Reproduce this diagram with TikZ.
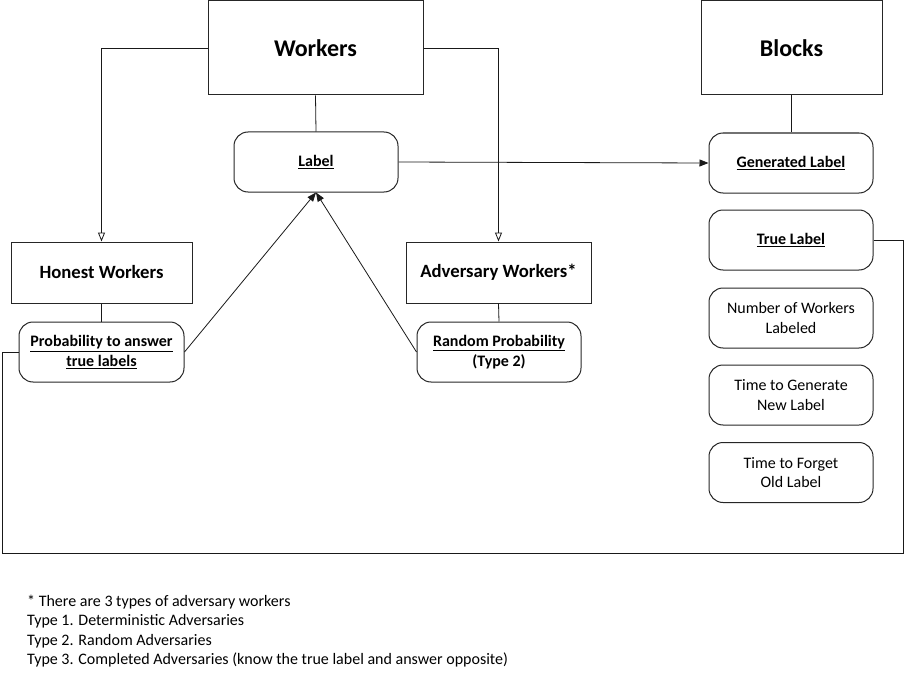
\documentclass[tikz,border=0pt]{standalone}
\usepackage{fontspec}
\setmainfont{Carlito}
\usetikzlibrary{arrows.meta}
\begin{document}
\begin{tikzpicture}[x=1pt,y=-1pt,
  box/.style={draw=black!85, line width=1pt, inner sep=0pt, align=center},
  bigbox/.style={box, minimum width=181pt, minimum height=94pt, font=\bfseries\fontsize{24}{28}\selectfont},
  midbox/.style={box, minimum height=61pt, font=\bfseries\fontsize{18.7}{22}\selectfont},
  rbox/.style={box, rounded corners=14pt, minimum width=164pt, minimum height=60pt, font=\fontsize{16}{19.5}\selectfont},
  rboxb/.style={rbox, font=\bfseries\fontsize{16}{19.5}\selectfont},
  conn/.style={draw=black!90, line width=0.8pt},
  openarr/.style={conn, -{Triangle[open,length=9pt,width=7pt]}},
  fillarr/.style={conn, -{Triangle[length=9pt,width=7pt]}},
  note/.style={anchor=base west, inner sep=0pt, font=\fontsize{16}{19}\selectfont}]
\useasboundingbox (0,0) rectangle (906,677);
% top boxes
\node[bigbox, minimum width=215pt] (workers) at (315.5,48) {Workers};
\node[bigbox] (blocks) at (791.5,48) {Blocks};
% middle boxes
\node[midbox, minimum width=181pt] (honest) at (101.5,272.5) {Honest Workers};
\node[midbox, minimum width=185pt] (adv) at (498.5,272.5) {Adversary Workers*};
% rounded boxes
\node[rboxb] (label) at (316,162) {\underline{Label}};
\node[rboxb, minimum width=165pt] (prob) at (101.5,352) {\underline{Probability to answer}\\\underline{true labels}};
\node[rboxb] (random) at (499,352) {\underline{Random Probability}\\(Type 2)};
\node[rboxb] (gen) at (791,163) {\underline{Generated Label}};
\node[rboxb] (true) at (791,240) {\underline{True Label}};
\node[rbox] (num) at (791,318) {Number of Workers\\Labeled};
\node[rbox] (tgen) at (791,395) {Time to Generate\\New Label};
\node[rbox] (tfor) at (791,472.5) {Time to Forget\\Old Label};
% connectors
\draw[openarr] (workers.west) -| (honest.north);
\draw[openarr] (workers.east) -| (adv.north);
\draw[conn] (workers.south) -- (label.north);
\draw[conn] (blocks.south) -- (gen.north -| blocks.south);
\draw[conn] (honest.south) -- (prob.north);
\draw[conn] (adv.south) -- (random.north);
\draw[fillarr] (label.east) -- (gen.west);
\draw[fillarr] (prob.east) -- (label.south);
\draw[fillarr] (random.west) -- (label.south);
\coordinate (loopR) at (903,553);
\coordinate (loopL) at (2,553);
\draw[conn] (true.east) -| (loopR) -- (loopL) |- (prob.west);
% footnote
\node[note] (n1) at (27,606) {* There are 3 types of adversary workers};
\node[note] (n2) at (27,625.5) {Type 1. Deterministic Adversaries};
\node[note] (n3) at (27,645) {Type 2. Random Adversaries};
\node[note] (n4) at (27,664.5) {Type 3. Completed Adversaries (know the true label and answer opposite)};
\end{tikzpicture}
\end{document}
